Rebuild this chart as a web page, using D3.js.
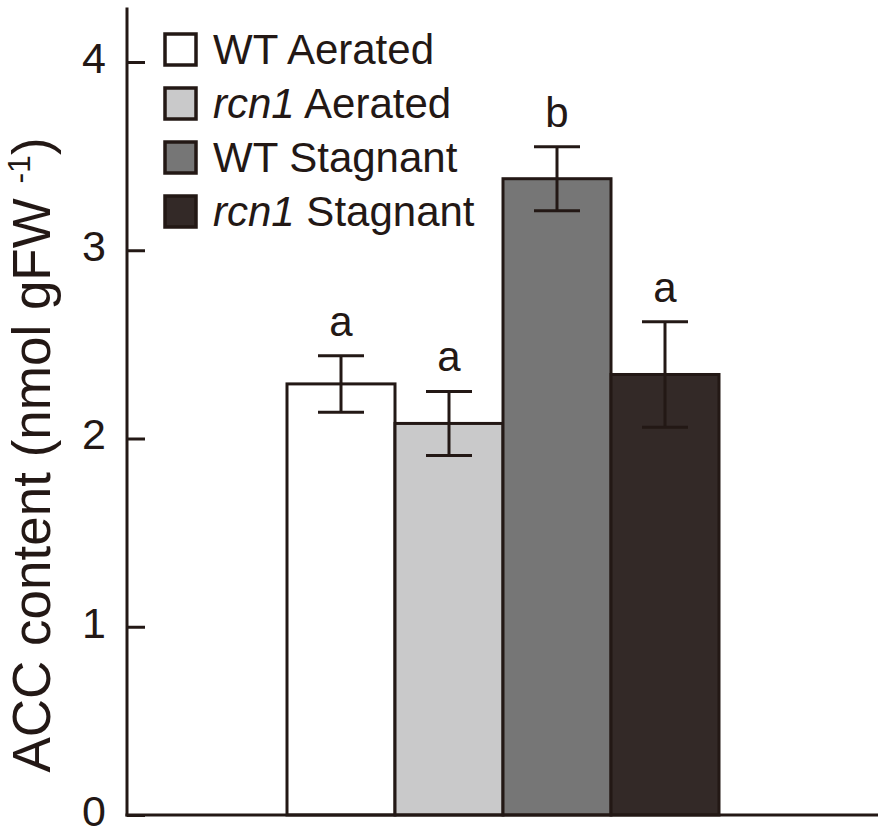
<!DOCTYPE html>
<html>
<head>
<meta charset="utf-8">
<script src="https://cdn.jsdelivr.net/npm/d3@7"></script>
<style>
  body { margin: 0; background: #fff; }
  text { font-family: "Liberation Sans", Arial, sans-serif; fill: #231815; }
</style>
</head>
<body>
<svg id="chart" width="878" height="829"></svg>
<script>
// data
const groups = ["WT Aerated", "rcn1 Aerated", "WT Stagnant", "rcn1 Stagnant"];
const genotype = ["WT", "rcn1", "WT", "rcn1"];
const treatment = ["Aerated", "Aerated", "Stagnant", "Stagnant"];
const means = [2.29, 2.08, 3.38, 2.34];
const errors = [0.15, 0.17, 0.17, 0.28];
const letters = ["a", "a", "b", "a"];
const colors = ["#ffffff", "#c9c9ca", "#767676", "#332927"];
const yTicks = [0, 1, 2, 3, 4];

const ink = "#231815";
const svg = d3.select("#chart");

const y = d3.scaleLinear().domain([0, 4]).range([815, 62]);
const x = d3.scaleBand().domain(groups).range([287, 719]).padding(0);

// bars
svg.append("g").selectAll("rect")
    .data(groups)
    .join("rect")
    .attr("x", d => x(d))
    .attr("y", (d, i) => y(means[i]))
    .attr("width", x.bandwidth())
    .attr("height", (d, i) => y(0) - y(means[i]))
    .attr("fill", (d, i) => colors[i])
    .attr("stroke", ink)
    .attr("stroke-width", 3);

// error bars
const err = svg.append("g").attr("stroke", ink).attr("stroke-width", 3);
groups.forEach((g, i) => {
    const cx = x(g) + x.bandwidth() / 2;
    const top = y(means[i] + errors[i]), bot = y(means[i] - errors[i]);
    err.append("line").attr("x1", cx).attr("x2", cx).attr("y1", top).attr("y2", bot);
    err.append("line").attr("x1", cx - 23).attr("x2", cx + 23).attr("y1", top).attr("y2", top);
    err.append("line").attr("x1", cx - 23).attr("x2", cx + 23).attr("y1", bot).attr("y2", bot);
});

// significance letters
svg.append("g").selectAll("text")
    .data(groups)
    .join("text")
    .attr("x", d => x(d) + x.bandwidth() / 2)
    .attr("y", (d, i) => y(means[i] + errors[i]) - 20)
    .attr("text-anchor", "middle")
    .attr("font-size", 42)
    .text((d, i) => letters[i]);

// axes
const yAxis = d3.axisRight(y).tickValues(yTicks).tickSize(18).tickFormat(d3.format("d"));
const ya = svg.append("g").attr("transform", "translate(127,0)").call(yAxis);
ya.select(".domain").remove();
ya.selectAll(".tick line").attr("stroke", ink).attr("stroke-width", 3);
ya.selectAll(".tick text")
    .attr("x", -21)
    .attr("text-anchor", "end")
    .attr("font-size", 43)
    .attr("dy", "0.24em")
    .attr("fill", ink);

svg.append("line")
    .attr("x1", 127).attr("x2", 127)
    .attr("y1", y(4.29)).attr("y2", y(0) + 1.5)
    .attr("stroke", ink).attr("stroke-width", 3);
svg.append("line")
    .attr("x1", 125.5).attr("x2", 878)
    .attr("y1", y(0)).attr("y2", y(0))
    .attr("stroke", ink).attr("stroke-width", 3);

// y title
const title = svg.append("text")
    .attr("transform", "translate(50,455) rotate(-90)")
    .attr("text-anchor", "middle")
    .attr("font-size", 53);
title.append("tspan").text("ACC content (nmol gFW ");
title.append("tspan").attr("font-size", 32).attr("dy", -20).text("-1");
title.append("tspan").attr("dy", 20).text(")");

// legend
const legend = svg.append("g").attr("transform", "translate(165,34)");
groups.forEach((g, i) => {
    const row = legend.append("g").attr("transform", `translate(0,${i * 54})`);
    row.append("rect")
        .attr("width", 31).attr("height", 31)
        .attr("fill", colors[i])
        .attr("stroke", ink).attr("stroke-width", 3.5);
    const t = row.append("text").attr("x", 48).attr("y", 30).attr("font-size", 42);
    t.append("tspan").attr("font-style", genotype[i] === "rcn1" ? "italic" : "normal").text(genotype[i]);
    t.append("tspan").text(" " + treatment[i]);
});
</script>
</body>
</html>
